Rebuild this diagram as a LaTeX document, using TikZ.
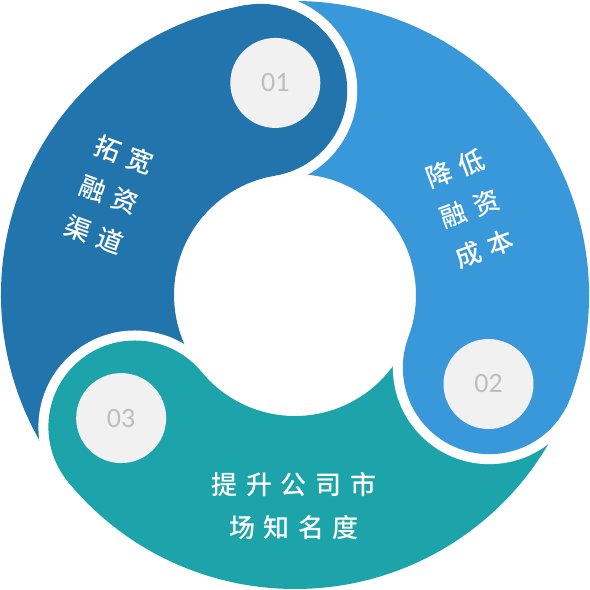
\documentclass[tikz,border=0pt]{standalone}
\usepackage{fontspec}
\usepackage{tikz}
\usetikzlibrary{calc}
\newfontfamily\cjk{Noto Sans CJK SC}[UprightFont=* Medium]
\newfontfamily\numfont{Carlito}
\definecolor{DeepBlue}{RGB}{33,116,172}
\definecolor{LightBlue}{RGB}{56,152,218}
\definecolor{TealGreen}{RGB}{28,164,170}
\definecolor{DiscGray}{RGB}{241,241,241}
\definecolor{NumGray}{RGB}{190,190,190}

\begin{document}
\begin{tikzpicture}[x=0.5pt, y=0.5pt,
		txt/.style={text=white, align=center, font=\cjk\addfontfeature{LetterSpace=33}\fontsize{13}{21.3}\selectfont},
		num/.style={circle, fill=DiscGray, minimum size=45pt, inner sep=0pt, text=NumGray, font=\numfont\fontsize{14}{14}\selectfont}]
			\useasboundingbox (-295,-295) rectangle (295,295);
			
			\pgfmathsetmacro{\Ro}{294}
			\pgfmathsetmacro{\Ri}{121}
			\pgfmathsetmacro{\Rm}{(\Ro+\Ri)/2}
			\pgfmathsetmacro{\hw}{(\Ro-\Ri)/2}
			\pgfmathsetmacro{\gap}{10}
			
			% 三段圆环
			\foreach \h/\col in {99.5/DeepBlue, -20.5/LightBlue, 219.5/TealGreen} {
				\fill[\col] (\h:\Ro) arc[start angle=\h, end angle={\h+120}, radius=\Ro]
					-- ({\h+120}:\Ri) arc[start angle={\h+120}, end angle=\h, radius=\Ri] -- cycle;
			}
			
			% 圆头与白色间隙
			\foreach \h/\col in {99.5/DeepBlue, -20.5/LightBlue, 219.5/TealGreen} {
				\begin{scope}
					\clip (0,0) -- ({\h-120}:400) arc[start angle={\h-120}, end angle=\h, radius=400] -- cycle;
					\fill[white] (\h:\Rm) circle[radius={\hw+\gap}];
				\end{scope}
				\fill[\col] (\h:\Rm) circle[radius=\hw];
			}
			
			% 序号
			\node[num] (n1) at (95.3:213) {01};
			\node[num] (n2) at (-24.7:213) {02};
			\node[num] (n3) at (215.3:213) {03};
			
			% 文字
			\node[txt, rotate=-20.5] (t1) at (-186,100) {拓宽\\融资\\渠道};
			\node[txt, rotate=20] (t2) at (175,86) {降低\\融资\\成本};
			\node[txt] (t3) at (-1,-211) {提升公司市\\场知名度};
		\end{tikzpicture}
\end{document}
